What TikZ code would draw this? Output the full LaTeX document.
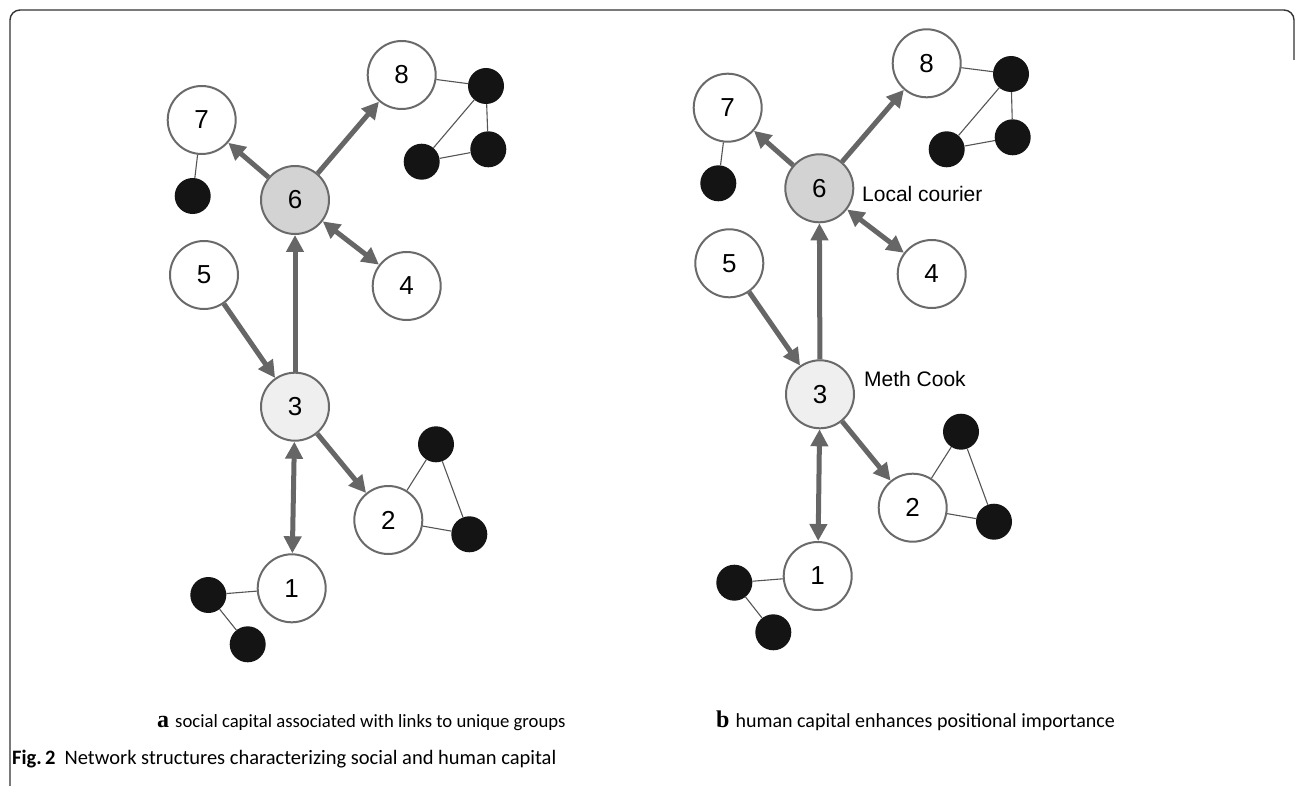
\documentclass[tikz,border=0pt]{standalone}
\usepackage{fontspec}
\setmainfont{Liberation Sans}
\newfontfamily\capfont{Carlito}
\newfontfamily\serifb{Liberation Serif}
\usetikzlibrary{arrows.meta}
\definecolor{edgegray}{HTML}{666666}
\definecolor{rimgray}{HTML}{6A6A6A}
\definecolor{tiegray}{HTML}{555555}
\definecolor{hubdark}{HTML}{D3D3D3}
\definecolor{hublight}{HTML}{EFEFEF}
\definecolor{frameline}{HTML}{333333}
\begin{document}
\begin{tikzpicture}[x=1pt,y=-1pt,
  actor/.style={circle, draw=rimgray, line width=2pt, minimum size=68pt, inner sep=0pt, fill=white, font=\fontsize{26}{26}\selectfont},
  hubA/.style={actor, fill=hubdark},
  hubB/.style={actor, fill=hublight},
  other/.style={circle, fill=black!92, minimum size=36pt, inner sep=0pt},
  tie/.style={draw=tiegray, line width=1.1pt},
  flow/.style={draw=edgegray, line width=5pt, -{Triangle[length=17pt,width=17pt]}},
  both/.style={draw=edgegray, line width=5pt, {Triangle[length=17pt,width=17pt]}-{Triangle[length=17pt,width=17pt]}},
  lab/.style={anchor=west, inner sep=0pt, font=\fontsize{21}{21}\selectfont},
  capt/.style={anchor=base west, inner sep=0pt, font=\capfont\fontsize{20}{20}\selectfont},
]
\useasboundingbox (0,0) rectangle (1295,786);
\draw[frameline, line width=1.4pt, rounded corners=10pt] (10,786) -- (10,10) -- (1294,10) -- (1294,60);

% ---------- panel a ----------
\node[actor] (a7) at (201.7,120) {7};
\node[actor] (a8) at (401.7,75) {8};
\node[hubA] (a6) at (295,200) {6};
\node[actor] (a5) at (204,275) {5};
\node[actor] (a4) at (406.7,286) {4};
\node[hubB] (a3) at (295,406.7) {3};
\node[actor] (a2) at (388.3,520) {2};
\node[actor] (a1) at (291.7,588.3) {1};
\node[other] (ak7) at (192.7,196) {};
\node[other] (ak8a) at (486,86) {};
\node[other] (ak8b) at (488.3,149.3) {};
\node[other] (ak8c) at (421.7,161.7) {};
\node[other] (ak2a) at (436,444.3) {};
\node[other] (ak2b) at (469.3,534.3) {};
\node[other] (ak1a) at (208.3,595) {};
\node[other] (ak1b) at (247.7,644.3) {};

\draw[tie] (a7) -- (ak7);
\draw[tie] (a8) -- (ak8a);
\draw[tie] (ak8a) -- (ak8b);
\draw[tie] (ak8a) -- (ak8c);
\draw[tie] (ak8c) -- (ak8b);
\draw[tie] (a2) -- (ak2a);
\draw[tie] (a2) -- (ak2b);
\draw[tie] (ak2a) -- (ak2b);
\draw[tie] (a1) -- (ak1a);
\draw[tie] (ak1a) -- (ak1b);

\draw[flow] (a6) -- (a7);
\draw[flow] (a6) -- (a8);
\draw[both] (a6) -- (a4);
\draw[flow] (a3) -- (a6);
\draw[flow] (a5) -- (a3);
\draw[flow] (a3) -- (a2);
\draw[both] (a3) -- (a1);

% ---------- panel b ----------
\node[actor] (b7) at (727.7,107.7) {7};
\node[actor] (b8) at (926.7,63.3) {8};
\node[hubA] (b6) at (819.3,188.3) {6};
\node[actor] (b5) at (729.3,263.3) {5};
\node[actor] (b4) at (931.7,274) {4};
\node[hubB] (b3) at (820,394.3) {3};
\node[actor] (b2) at (912.7,507.7) {2};
\node[actor] (b1) at (817.7,576) {1};
\node[other] (bk7) at (718.3,183.3) {};
\node[other] (bk8a) at (1011,74) {};
\node[other] (bk8b) at (1012.7,137.3) {};
\node[other] (bk8c) at (946.7,149.3) {};
\node[other] (bk2a) at (961,431.7) {};
\node[other] (bk2b) at (994,521.7) {};
\node[other] (bk1a) at (734.3,582.7) {};
\node[other] (bk1b) at (773.3,632.3) {};

\draw[tie] (b7) -- (bk7);
\draw[tie] (b8) -- (bk8a);
\draw[tie] (bk8a) -- (bk8b);
\draw[tie] (bk8a) -- (bk8c);
\draw[tie] (bk8c) -- (bk8b);
\draw[tie] (b2) -- (bk2a);
\draw[tie] (b2) -- (bk2b);
\draw[tie] (bk2a) -- (bk2b);
\draw[tie] (b1) -- (bk1a);
\draw[tie] (bk1a) -- (bk1b);

\draw[flow] (b6) -- (b7);
\draw[flow] (b6) -- (b8);
\draw[both] (b6) -- (b4);
\draw[flow] (b3) -- (b6);
\draw[flow] (b5) -- (b3);
\draw[flow] (b3) -- (b2);
\draw[both] (b3) -- (b1);

\node[lab] (lc) at (862,194) {Local courier};
\node[lab] (mc) at (864,379) {Meth Cook};

% ---------- captions ----------
\node[capt, font=\capfont\fontsize{18.7}{19}\selectfont] (capa) at (157,727) {{\serifb\bfseries\fontsize{24}{24}\selectfont a}\hspace{6pt}social capital associated with links to unique groups};
\node[capt] (capb) at (716,727) {{\serifb\bfseries\fontsize{24}{24}\selectfont b}\hspace{6pt}human capital enhances positional importance};
\node[capt, font=\capfont\fontsize{20.5}{21}\selectfont] (fig) at (12,764) {\textbf{Fig.\,2}\hspace{9pt}Network structures characterizing social and human capital};
\end{tikzpicture}
\end{document}
